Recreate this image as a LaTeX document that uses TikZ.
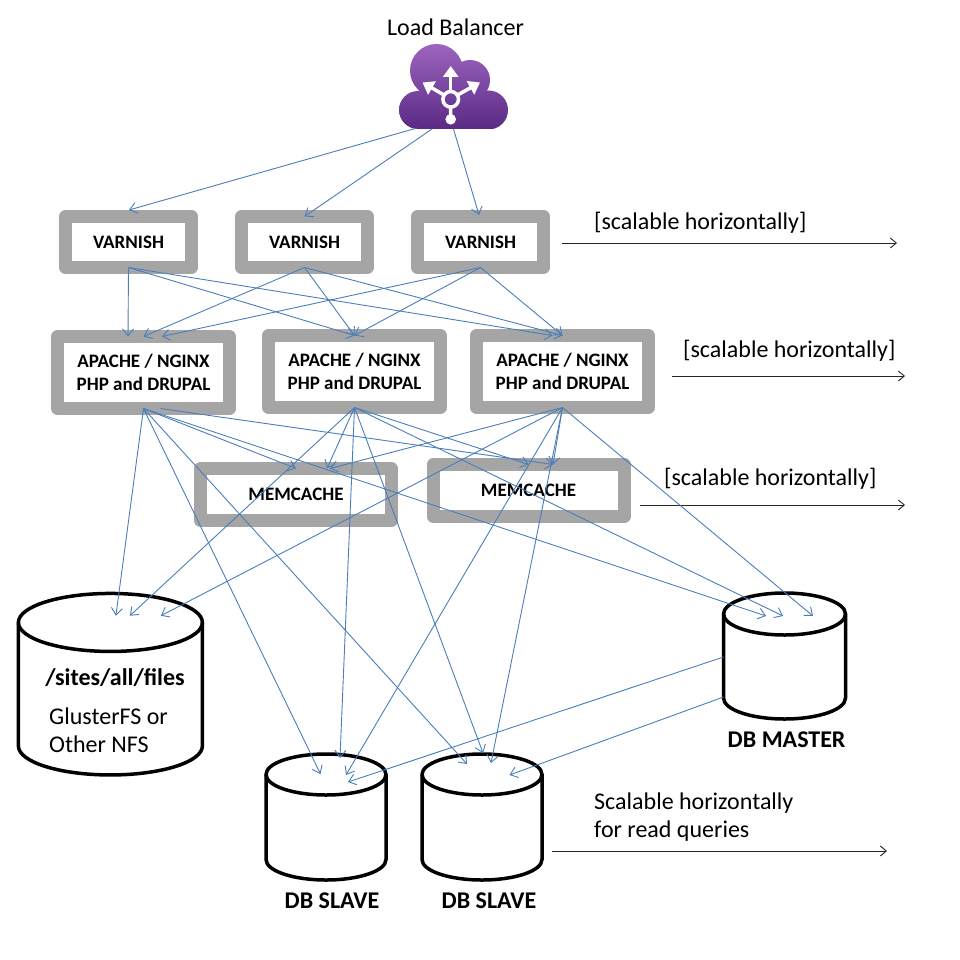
\documentclass[tikz,border=0pt]{standalone}
\usepackage{fontspec}
\setmainfont{Carlito}
\usetikzlibrary{arrows.meta}

\definecolor{boxgrey}{HTML}{A5A5A5}
\definecolor{linkblue}{HTML}{4A7EBB}
\definecolor{cloudtop}{HTML}{9C64BF}
\definecolor{cloudbottom}{HTML}{5A2A84}

\tikzset{
  tier/.style={draw=boxgrey, line width=13pt, line join=round, fill=white, outer sep=0pt,
    font=\fontsize{19}{23}\selectfont\bfseries, align=center},
  varnish/.style={tier, minimum width=126pt, minimum height=51pt},
  apache/.style={tier, minimum width=172pt, minimum height=72pt},
  memcache/.style={tier, minimum width=191pt, minimum height=52pt},
  db/.style={fill=white, outer sep=0pt, inner sep=0pt},
  dbline/.style={draw=black, line width=3.5pt},
  link/.style={-{Straight Barb[length=7pt,width=11pt]}, draw=linkblue, line width=0.9pt},
  scale arrow/.style={-{Straight Barb[length=6pt,width=10pt]}, draw=black!85, line width=0.9pt},
  caption/.style={font=\fontsize{24}{28}\selectfont, align=left, anchor=west, inner sep=0pt},
  dbname/.style={font=\fontsize{24}{28}\selectfont\bfseries, inner sep=0pt}
}

% name, x, y, width, height, end radius
\newcommand{\dbdrum}[6]{
  \node (#1) [db, minimum width=#4pt, minimum height=#5pt] at (#2,#3) {};
  \draw[dbline] ([yshift=-#6pt]#1.north west)
    arc[start angle=180, end angle=0, x radius=#4pt/2, y radius=#6pt]
    -- ([yshift=#6pt]#1.south east)
    arc[start angle=0, end angle=-180, x radius=#4pt/2, y radius=#6pt] -- cycle;
  \draw[dbline] ([yshift=-#6pt]#1.north west)
    arc[start angle=180, end angle=360, x radius=#4pt/2, y radius=#6pt];
}

\begin{document}
\begin{tikzpicture}[x=1pt,y=-1pt]
\useasboundingbox (0,0) rectangle (960,960);

% load balancer icon
\node (lb) [minimum width=109pt, minimum height=85pt, outer sep=0pt, inner sep=0pt] at (453.5,86.5) {};
\node (lbname) [font=\fontsize{24}{28}\selectfont, inner sep=0pt] at (455.5,27) {Load Balancer};
\begin{scope}
  \clip (436.5,70.5) circle (26.5pt) (470,80) circle (20pt) (418,110) circle (19pt)
        (488.5,110) circle (19.5pt) (418,91) rectangle (488.5,129);
  \shade[top color=cloudtop, bottom color=cloudbottom] (399,44) rectangle (508,129);
\end{scope}
\begin{scope}[white, line width=3.5pt, -{Triangle[length=11pt,width=15pt]}]
  \draw (450.7,91) -- (450.7,66);
  \draw (444,95) -- (422.5,82.5);
  \draw (457.5,95) -- (480,82.5);
\end{scope}
\draw[white, line width=3.5pt] (450.7,99.3) circle (7.8pt) (450.7,107) -- (450.7,116);
\fill[white] (450.7,119.3) circle (5.3pt);

% tiers
\node (v1) [varnish] at (128.5,242) {VARNISH};
\node (v2) [varnish] at (304.5,242) {VARNISH};
\node (v3) [varnish] at (480.5,242) {VARNISH};

\node (a1) [apache] at (143.5,372.5) {APACHE / NGINX\\PHP and DRUPAL};
\node (a2) [apache] at (354.5,371.5) {APACHE / NGINX\\PHP and DRUPAL};
\node (a3) [apache] at (562.5,371.5) {APACHE / NGINX\\PHP and DRUPAL};

\node (m1) [memcache] at (296,494.5) {MEMCACHE};
\node (m2) [memcache] at (528.5,490.5) {MEMCACHE};

% storage
\dbdrum{files}{110.4}{684.2}{184}{181.5}{29}
\node (filesname) [font=\fontsize{24}{28}\selectfont\bfseries, inner sep=0pt] at (115,677.5) {/sites/all/files};
\node (filestext) [caption] at (49,730) {GlusterFS or\\Other NFS};

\dbdrum{master}{784.5}{656}{122}{126}{21}
\dbdrum{s1}{326}{817}{120}{126}{20.5}
\dbdrum{s2}{482}{817}{120}{126}{20.5}
\node (mastername) [dbname] at (786.6,740) {DB MASTER};
\node (s1name) [dbname] at (332,901) {DB SLAVE};
\node (s2name) [dbname] at (489,901) {DB SLAVE};

% scaling notes
\node (note1) [caption] at (594,222.5) {[scalable horizontally]};
\node (note2) [caption] at (683,350.5) {[scalable horizontally]};
\node (note3) [caption] at (664,478.5) {[scalable horizontally]};
\node (note4) [caption] at (594,817) {Scalable horizontally\\for read queries};

\coordinate (n1a) at (562,243);  \coordinate (n1b) at (897,243);
\coordinate (n2a) at (672,376);  \coordinate (n2b) at (905,376);
\coordinate (n3a) at (640,505);  \coordinate (n3b) at (905,505);
\coordinate (n4a) at (552,851);  \coordinate (n4b) at (887,851);
\foreach \i in {1,...,4}
  \draw[scale arrow] (n\i a) -- (n\i b);

% load balancer to varnish
\draw[link] ([shift={(-36.5,-1)}]lb.south) -- ([shift={(0.5,-6.5)}]v1.north);
\draw[link] ([shift={(-21.5,0)}]lb.south) -- (v2.north);
\draw[link] (lb.south) -- ([shift={(-1.5,-1.5)}]v3.north);

% varnish to apache
\draw[link] (v1.south) -- ([shift={(-15.5,0)}]a1.north);
\draw[link] (v2.south) -- (a1.north);
\draw[link] (v3.south) -- ([shift={(18.5,0)}]a1.north);
\foreach \from in {v1,v2,v3}
  \draw[link] (\from.south) -- (a2.north);
\draw[link] (v1.south) -- ([shift={(-10,0)}]a3.north);
\draw[link] (v2.south) -- (a3.north);
\draw[link] (v3.south) -- (a3.north);

% apache to memcache
\draw[link] (a1.south) -- (m1.north);
\draw[link] (a2.south) -- ([shift={(31,0)}]m1.north);
\draw[link] (a3.south) -- ([shift={(34,0)}]m1.north);
\draw[link] ([shift={(17,0)}]a1.south) -- ([shift={(24.5,0)}]m2.north);
\draw[link] (a2.south) -- (m2.north);
\draw[link] (a3.south) -- ([shift={(24.5,0)}]m2.north);

% apache to files
\draw[link] (a1.south) -- ([shift={(5.5,-68.5)}]files.center);
\draw[link] (a2.south) -- ([shift={(19.5,-68.5)}]files.center);
\draw[link] (a3.south) -- ([shift={(50.5,-68.5)}]files.center);

% apache to master
\draw[link] (a1.south) -- ([shift={(-18.5,-40)}]master.center);
\draw[link] (a2.south) -- ([shift={(-1.5,-40)}]master.center);
\draw[link] (a3.south) -- ([shift={(28.5,-40)}]master.center);

% apache to slaves
\draw[link] (a1.south) -- ([shift={(-5.5,-43)}]s1.center);
\draw[link] (a2.south) -- ([shift={(14,-59)}]s1.center);
\draw[link] (a3.south) -- ([shift={(20,-42)}]s1.center);
\draw[link] (a1.south) -- ([shift={(-15,-53)}]s2.center);
\draw[link] (a2.south) -- ([shift={(1,-64)}]s2.center);
\draw[link] (a3.south) -- ([shift={(9,-54)}]s2.center);

% master to slaves
\draw[link] ([shift={(-61,1)}]master.center) -- ([shift={(22,-35)}]s1.center);
\draw[link] ([shift={(-61,41)}]master.center) -- ([shift={(27.5,-42)}]s2.center);
\end{tikzpicture}
\end{document}
